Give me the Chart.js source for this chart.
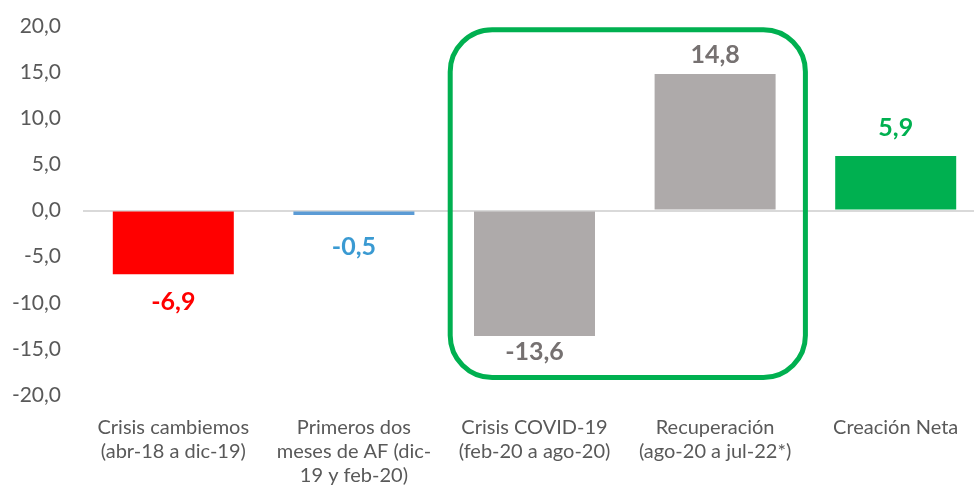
<!DOCTYPE html>
<html>
<head>
<meta charset="utf-8">
<script src="https://cdn.jsdelivr.net/npm/chart.js@4.4.0/dist/chart.umd.min.js"></script>
<style>
  body { margin: 0; overflow: hidden; background: #fff; }
  #wrap { width: 986px; height: 493px; }
</style>
</head>
<body>
<div id="wrap"><canvas id="myChart"></canvas></div>
<script>
// DATA
const categories = [
    ["Crisis cambiemos", "(abr-18 a dic-19)"],
    ["Primeros dos", "meses de AF (dic-", "19 y feb-20)"],
    ["Crisis COVID-19", "(feb-20 a ago-20)"],
    ["Recuperación", "(ago-20 a jul-22*)"],
    ["Creación Neta"]
];
const values = [-6.9, -0.5, -13.6, 14.8, 5.9];
const yTicks = [-20, -15, -10, -5, 0, 5, 10, 15, 20];

// STYLE
const barColors = ["#ff0000", "#5b9bd5", "#aeaaaa", "#aeaaaa", "#00b050"];
const labelColors = ["#ff0000", "#3a9ad2", "#767171", "#767171", "#00b050"];
const labelOffsets = [28, 32, 16, 19, 28];
const FONT = "Lato, 'Open Sans', sans-serif";

const fmt = v => v.toFixed(1).replace(".", ",");

// value labels
const valueLabels = {
    id: "valueLabels",
    afterDatasetsDraw(chart) {
        const ctx = chart.ctx;
        const meta = chart.getDatasetMeta(0);
        ctx.save();
        ctx.font = "bold 25px " + FONT;
        ctx.textAlign = "center";
        ctx.textBaseline = "middle";
        meta.data.forEach((bar, i) => {
            const v = values[i];
            const y = v < 0 ? bar.y + labelOffsets[i] : bar.y - labelOffsets[i];
            ctx.fillStyle = labelColors[i];
            ctx.fillText(fmt(v), bar.x, y);
        });
        ctx.restore();
    }
};

// green box round covid + recuperacion
const highlightBox = {
    id: "highlightBox",
    afterDatasetsDraw(chart) {
        const ctx = chart.ctx;
        const x = chart.scales.x, y = chart.scales.y;
        const half = (x.getPixelForValue(1) - x.getPixelForValue(0)) / 2;
        const left = x.getPixelForValue(2) - half + 6;
        const right = x.getPixelForValue(3) + half;
        const top = y.getPixelForValue(19.6);
        const bottom = y.getPixelForValue(-18.1);
        ctx.save();
        ctx.strokeStyle = "#00b050";
        ctx.lineWidth = 5;
        ctx.beginPath();
        ctx.roundRect(left, top, right - left, bottom - top, 42);
        ctx.stroke();
        ctx.restore();
    }
};

const ctx = document.getElementById("myChart").getContext("2d");

new Chart(ctx, {
    type: "bar",
    data: {
        labels: categories,
        datasets: [{
            data: values,
            backgroundColor: barColors,
            barPercentage: 0.67,
            categoryPercentage: 1
        }]
    },
    options: {
        responsive: true,
        maintainAspectRatio: false,
        animation: false,
        layout: { padding: { top: 26, right: 0, left: 0, bottom: 0 } },
        plugins: {
            legend: { display: false },
            tooltip: { enabled: false }
        },
        scales: {
            x: {
                grid: { display: false },
                border: { display: false },
                ticks: {
                    color: "#595959",
                    font: { family: FONT, size: 20, lineHeight: 1.2 },
                    padding: 13,
                    maxRotation: 0,
                    autoSkip: false
                },
                afterFit(scale) { scale.height = 98; }
            },
            y: {
                min: -20,
                max: 20,
                afterBuildTicks(scale) {
                    scale.ticks = yTicks.map(v => ({ value: v }));
                },
                grid: {
                    drawTicks: false,
                    color: c => c.tick && c.tick.value === 0 ? "#d9d9d9" : "rgba(0,0,0,0)",
                    lineWidth: 2
                },
                border: { display: false },
                ticks: {
                    color: "#595959",
                    font: { family: FONT, size: 21 },
                    padding: 22,
                    callback: v => fmt(v)
                },
                afterFit(scale) {
                    scale.width = 83;
                    scale.paddingTop = 0;
                    scale.paddingBottom = 0;
                }
            }
        }
    },
    plugins: [valueLabels, highlightBox]
});
</script>
</body>
</html>
